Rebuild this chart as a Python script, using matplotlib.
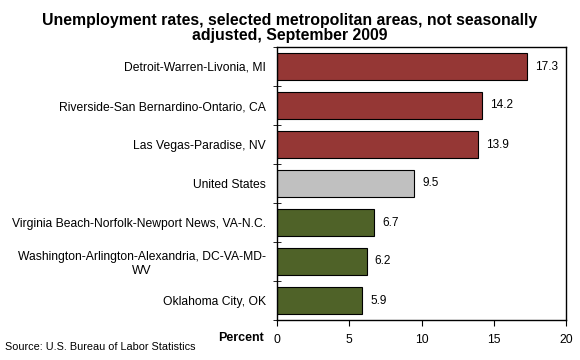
import matplotlib.pyplot as plt
import numpy as np

plt.rcParams['font.family'] = ['Liberation Sans', 'DejaVu Sans']

# данные
areas = ['Detroit-Warren-Livonia, MI',
         'Riverside-San Bernardino-Ontario, CA',
         'Las Vegas-Paradise, NV',
         'United States',
         'Virginia Beach-Norfolk-Newport News, VA-N.C.',
         'Washington-Arlington-Alexandria, DC-VA-MD-\nWV',
         'Oklahoma City, OK']
rates = [17.3, 14.2, 13.9, 9.5, 6.7, 6.2, 5.9]
colors = ['#953735', '#953735', '#953735', '#C0C0C0', '#4F6228', '#4F6228', '#4F6228']
xticks = [0, 5, 10, 15, 20]

fig = plt.figure(figsize=(5.8, 3.6), dpi=100)
ax = fig.add_axes([277 / 580, 40 / 360, 289 / 580, 273 / 360])

y = np.arange(len(areas))
ax.barh(y, rates, height=0.70, color=colors, edgecolor='black', linewidth=0.8)
for yi, v in zip(y, rates):
    ax.text(v + 0.57, yi, f'{v}', va='center', ha='left', fontsize=8.5)

ax.set_ylim(len(areas) - 0.5, -0.5)
ax.set_xlim(0, 20)
ax.set_xticks(xticks)
ax.set_xticklabels([str(t) for t in xticks], fontsize=8.7)
ax.tick_params(axis='x', direction='out', length=4, pad=6)

# подписи категорий без меток, метки на границах категорий
ax.set_yticks(y)
ax.set_yticklabels(areas, fontsize=8.7, ha='right', multialignment='center')
ax.tick_params(axis='y', length=0, pad=8)
ax.set_yticks(np.arange(len(areas) + 1) - 0.5, minor=True)
ax.tick_params(axis='y', which='minor', direction='inout', length=6)

for s in ax.spines.values():
    s.set_linewidth(1.0)

fig.text(0.5, 0.965, 'Unemployment rates, selected metropolitan areas, not seasonally\nadjusted, September 2009',
         ha='center', va='top', fontsize=11.4, fontweight='bold', linespacing=1.05)
fig.text(0.455, 0.062, 'Percent', ha='right', va='center', fontsize=9, fontweight='bold')
fig.text(0.009, 0.035, 'Source: U.S. Bureau of Labor Statistics', ha='left', va='center', fontsize=7.8)

fig.savefig('out.png', dpi=100)
